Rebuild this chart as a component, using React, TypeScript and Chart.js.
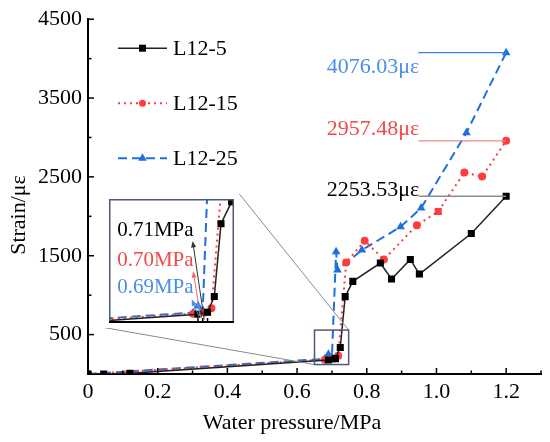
import React, { useEffect, useRef } from "react";
import { Chart, registerables } from "chart.js";
Chart.register(...registerables);

// ---------- data ----------
const seriesNames = ["L12-5", "L12-15", "L12-25"];

const pressure5 = [0, 0.045, 0.12, 0.69, 0.71, 0.724, 0.738, 0.76, 0.839, 0.871, 0.925, 0.951, 1.1, 1.2];
const strain5 = [0, 0, 8, 178, 195, 335, 981, 1175, 1407, 1205, 1453, 1268, 1782, 2253.53];

const pressure15 = [0, 0.68, 0.7, 0.718, 0.741, 0.794, 0.849, 0.944, 1.005, 1.08, 1.131, 1.2];
const strain15 = [0, 182, 190, 230, 1415, 1690, 1453, 1888, 2061, 2555, 2504, 2957.48];

const pressure25 = [0, 0.68, 0.69, 0.7, 0.712, 0.716, 0.786, 0.897, 0.956, 1.086, 1.2];
const strain25 = [0, 192, 250, 215, 1551, 1319, 1572, 1867, 2104, 3061, 4076.03];

const endLabels = ["2253.53με", "2957.48με", "4076.03με"];
const xTickValues = [0, 0.1, 0.2, 0.3, 0.4, 0.5, 0.6, 0.7, 0.8, 0.9, 1.0, 1.1, 1.2, 1.3];
const yTickValues = [0, 500, 1000, 1500, 2000, 2500, 3000, 3500, 4000, 4500];

// inset
const insetTickValues = [0.69, 0.7, 0.71];
const insetLabels = ["0.71MPa", "0.70MPa", "0.69MPa"];

const xTitle = "Water pressure/MPa";
const yTitle = "Strain/με";

// ---------- style ----------
const FONT = "'Liberation Serif', 'Times New Roman', serif";
const BLACK = "#222222";
const RED = "#ff3b3b";
const BLUE = "#1f6fde";
const TEXT_COLORS = ["#000000", "#f24a4a", "#4a8ee6"];
const ANN_LINE = ["#8c8c8c", "#f08a8a", "#3c82e6"];
const FRAME = "#4c5a7a";

function pts(xs: number[], ys: number[]) {
  return xs.map((x, i) => ({ x, y: ys[i] }));
}

function makeDatasets() {
  return [
    {
      label: seriesNames[0],
      data: pts(pressure5, strain5),
      borderColor: BLACK,
      backgroundColor: "#000",
      borderWidth: 1.5,
      pointStyle: "rect",
      pointRadius: 5,
      pointBackgroundColor: "#000",
      pointBorderColor: "#000",
      pointBorderWidth: 0,
      tension: 0,
    },
    {
      label: seriesNames[1],
      data: pts(pressure15, strain15),
      borderColor: RED,
      backgroundColor: RED,
      borderWidth: 2,
      borderDash: [2, 4],
      pointStyle: (c: any) => (c.dataIndex === 2 || c.dataIndex === 8 ? "rect" : "circle"),
      pointRadius: (c: any) => (c.dataIndex === 2 || c.dataIndex === 8 ? 5 : 4),
      pointBackgroundColor: RED,
      pointBorderColor: RED,
      pointBorderWidth: 0,
      tension: 0,
    },
    {
      label: seriesNames[2],
      data: pts(pressure25, strain25),
      borderColor: BLUE,
      backgroundColor: BLUE,
      borderWidth: 2,
      borderDash: [9, 5],
      pointStyle: "triangle",
      pointRadius: 5,
      pointBackgroundColor: BLUE,
      pointBorderColor: BLUE,
      pointBorderWidth: 0,
      tension: 0,
    },
  ];
}

// inset placement (in main-chart data coordinates) and zoom box
const insetRect = { x0: 0.046, x1: 0.434, y0: 589, y1: 2285 };
const zoomBox = { x0: 0.65, x1: 0.748, y0: 120, y1: 557 };

function drawMarker(ctx: CanvasRenderingContext2D, style: string, cx: number, cy: number, color: string) {
  ctx.fillStyle = color;
  ctx.beginPath();
  if (style === "rect") {
    ctx.rect(cx - 3.5, cy - 3.5, 7, 7);
  } else if (style === "circle") {
    ctx.arc(cx, cy, 3.5, 0, Math.PI * 2);
  } else {
    const r = 5;
    ctx.moveTo(cx, cy - r);
    ctx.lineTo(cx + r * 0.866, cy + r * 0.5);
    ctx.lineTo(cx - r * 0.866, cy + r * 0.5);
    ctx.closePath();
  }
  ctx.fill();
}

const mainDecor = {
  id: "mainDecor",
  afterDatasetsDraw(chart: any) {
    const { ctx, chartArea: ca } = chart;
    const xs = chart.scales.x;
    const ys = chart.scales.y;
    ctx.save();

    // inward ticks
    ctx.strokeStyle = "#000";
    ctx.lineWidth = 1.5;
    xs.ticks.forEach((t: any) => {
      const px = xs.getPixelForValue(t.value);
      const len = t.label ? 6 : 3.5;
      ctx.beginPath();
      ctx.moveTo(px, ca.bottom);
      ctx.lineTo(px, ca.bottom - len);
      ctx.stroke();
    });
    ys.ticks.forEach((t: any) => {
      const py = ys.getPixelForValue(t.value);
      const len = t.label ? 6 : 3.5;
      ctx.beginPath();
      ctx.moveTo(ca.left, py);
      ctx.lineTo(ca.left + len, py);
      ctx.stroke();
    });

    // end value annotations
    const ends = [
      [pressure5[pressure5.length - 1], strain5[strain5.length - 1]],
      [pressure15[pressure15.length - 1], strain15[strain15.length - 1]],
      [pressure25[pressure25.length - 1], strain25[strain25.length - 1]],
    ];
    const textOffsets = [-6, -12, 15];
    const startX = xs.getPixelForValue(0.948);
    ctx.font = `22px ${FONT}`;
    ctx.textAlign = "right";
    ctx.textBaseline = "middle";
    ends.forEach(([ex, ey], i) => {
      const px = xs.getPixelForValue(ex);
      const py = ys.getPixelForValue(ey);
      ctx.strokeStyle = ANN_LINE[i];
      ctx.lineWidth = i === 0 ? 1.5 : 1.2;
      ctx.beginPath();
      ctx.moveTo(startX, py);
      ctx.lineTo(px, py);
      ctx.stroke();
      ctx.fillStyle = TEXT_COLORS[i];
      ctx.fillText(endLabels[i], startX + 1, py + textOffsets[i]);
    });

    // zoom box + connectors
    const bx0 = xs.getPixelForValue(zoomBox.x0);
    const bx1 = xs.getPixelForValue(zoomBox.x1);
    const by0 = ys.getPixelForValue(zoomBox.y0);
    const by1 = ys.getPixelForValue(zoomBox.y1);
    const ix0 = xs.getPixelForValue(insetRect.x0);
    const ix1 = xs.getPixelForValue(insetRect.x1);
    const iy0 = ys.getPixelForValue(insetRect.y0);
    const iy1 = ys.getPixelForValue(insetRect.y1);
    ctx.strokeStyle = "#8a8a8a";
    ctx.lineWidth = 1;
    ctx.beginPath();
    ctx.moveTo(ix1, iy1);
    ctx.lineTo(bx1, by1);
    ctx.moveTo(ix0, iy0);
    ctx.lineTo(bx0, by0);
    ctx.stroke();
    ctx.strokeStyle = FRAME;
    ctx.lineWidth = 1.5;
    ctx.strokeRect(bx0, by1, bx1 - bx0, by0 - by1);

    // legend
    const dsets = chart.data.datasets;
    ctx.textAlign = "left";
    ctx.textBaseline = "middle";
    dsets.forEach((d: any, i: number) => {
      const cy = ca.top + 29 + i * 55;
      const lx0 = ca.left + 30;
      const lx1 = ca.left + 79;
      ctx.strokeStyle = d.borderColor;
      ctx.lineWidth = d.borderWidth;
      ctx.setLineDash(d.borderDash || []);
      ctx.beginPath();
      ctx.moveTo(lx0, cy);
      ctx.lineTo(lx1, cy);
      ctx.stroke();
      ctx.setLineDash([]);
      const style = i === 0 ? "rect" : i === 1 ? "circle" : "triangle";
      drawMarker(ctx, style, (lx0 + lx1) / 2, cy, d.pointBackgroundColor);
      ctx.fillStyle = "#000";
      ctx.font = `22px ${FONT}`;
      ctx.fillText(d.label, ca.left + 85, cy + 1);
    });

    // axis titles
    ctx.fillStyle = "#000";
    ctx.font = `22px ${FONT}`;
    ctx.textAlign = "center";
    ctx.textBaseline = "middle";
    ctx.fillText(xTitle, ca.left + 204, 423);
    ctx.save();
    ctx.translate(19, 215);
    ctx.rotate(-Math.PI / 2);
    ctx.fillText(yTitle, 0, 0);
    ctx.restore();

    ctx.restore();
  },
};

const insetDecor = {
  id: "insetDecor",
  afterDatasetsDraw(chart: any) {
    const { ctx, chartArea: ca } = chart;
    const xs = chart.scales.x;
    const ys = chart.scales.y;
    ctx.save();
    // frame
    ctx.strokeStyle = FRAME;
    ctx.lineWidth = 1.5;
    ctx.strokeRect(ca.left + 0.75, ca.top + 0.75, ca.right - ca.left - 1.5, ca.bottom - ca.top - 1.5);
    // bottom axis
    ctx.strokeStyle = "#000";
    ctx.lineWidth = 2;
    ctx.beginPath();
    ctx.moveTo(ca.left, ca.bottom - 1);
    ctx.lineTo(ca.right, ca.bottom - 1);
    ctx.stroke();
    ctx.lineWidth = 1.5;
    insetTickValues.forEach((v) => {
      const px = xs.getPixelForValue(v);
      ctx.beginPath();
      ctx.moveTo(px, ca.bottom - 1);
      ctx.lineTo(px, ca.bottom - 5);
      ctx.stroke();
    });

    // arrows
    const arrows = [
      { from: [0.703, 130], to: [0.679, 828], color: "#333333" },
      { from: [0.696, 143], to: [0.68, 560], color: "#f26a6a" },
      { from: [0.692, 160], to: [0.677, 310], color: "#4a8ee6" },
      { from: [0.694, 160], to: [0.69, 300], color: "#4a8ee6" },
    ];
    arrows.forEach((a) => {
      const x0 = xs.getPixelForValue(a.from[0]);
      const y0 = ys.getPixelForValue(a.from[1]);
      const x1 = xs.getPixelForValue(a.to[0]);
      const y1 = ys.getPixelForValue(a.to[1]);
      const ang = Math.atan2(y1 - y0, x1 - x0);
      const hl = 7;
      ctx.strokeStyle = a.color;
      ctx.fillStyle = a.color;
      ctx.lineWidth = 1;
      ctx.beginPath();
      ctx.moveTo(x0, y0);
      ctx.lineTo(x1 - Math.cos(ang) * hl * 0.8, y1 - Math.sin(ang) * hl * 0.8);
      ctx.stroke();
      ctx.beginPath();
      ctx.moveTo(x1, y1);
      ctx.lineTo(x1 - hl * Math.cos(ang - 0.38), y1 - hl * Math.sin(ang - 0.38));
      ctx.lineTo(x1 - hl * Math.cos(ang + 0.38), y1 - hl * Math.sin(ang + 0.38));
      ctx.closePath();
      ctx.fill();
    });

    // labels
    const labelY = [923, 656, 418];
    ctx.font = `21px ${FONT}`;
    ctx.textAlign = "right";
    ctx.textBaseline = "middle";
    insetLabels.forEach((t, i) => {
      ctx.fillStyle = TEXT_COLORS[i];
      ctx.fillText(t, xs.getPixelForValue(0.681), ys.getPixelForValue(labelY[i]));
    });
    ctx.restore();
  },
};

export default function App() {
  const mainRef = useRef<HTMLCanvasElement>(null);
  const insetRef = useRef<HTMLCanvasElement>(null);

  useEffect(() => {
    const main = new Chart(mainRef.current as HTMLCanvasElement, {
      type: "line",
      data: { datasets: makeDatasets() as any },
      options: {
        animation: false,
        responsive: false,
        maintainAspectRatio: false,
        layout: { padding: { top: 18, right: 9, left: 0, bottom: 0 } },
        plugins: { legend: { display: false }, tooltip: { enabled: false }, title: { display: false } },
        scales: {
          x: {
            type: "linear",
            min: 0,
            max: 1.3,
            afterBuildTicks: (s: any) => {
              s.ticks = xTickValues.map((v) => ({ value: v }));
            },
            afterFit: (s: any) => {
              s.height = 68;
            },
            grid: { display: false, drawOnChartArea: false, drawTicks: false },
            border: { display: true, color: "#000", width: 2 },
            ticks: {
              padding: 5,
              color: "#000",
              autoSkip: false,
              maxRotation: 0,
              font: { family: FONT, size: 22 },
              callback: (v: any) => {
                const k = Math.round(Number(v) * 10);
                if (k % 2 !== 0) return "";
                return k === 0 ? "0" : (k / 10).toFixed(1);
              },
            },
          },
          y: {
            type: "linear",
            min: 0,
            max: 4500,
            afterBuildTicks: (s: any) => {
              s.ticks = yTickValues.map((v) => ({ value: v }));
            },
            afterFit: (s: any) => {
              s.width = 88;
            },
            grid: { display: false, drawOnChartArea: false, drawTicks: false },
            border: { display: true, color: "#000", width: 2 },
            ticks: {
              padding: 6,
              color: "#000",
              autoSkip: false,
              font: { family: FONT, size: 22 },
              callback: (v: any) => (Math.round(Number(v)) % 1000 === 500 ? String(v) : ""),
            },
          },
        },
      },
      plugins: [mainDecor],
    });

    const xs: any = main.scales.x;
    const ys: any = main.scales.y;
    const l = Math.round(xs.getPixelForValue(insetRect.x0));
    const r = Math.round(xs.getPixelForValue(insetRect.x1));
    const t = Math.round(ys.getPixelForValue(insetRect.y1));
    const b = Math.round(ys.getPixelForValue(insetRect.y0));
    const ic = insetRef.current as HTMLCanvasElement;
    ic.width = r - l;
    ic.height = b - t;
    ic.style.left = l + "px";
    ic.style.top = t + "px";
    ic.style.width = r - l + "px";
    ic.style.height = b - t + "px";

    const inset = new Chart(ic, {
      type: "line",
      data: { datasets: makeDatasets() as any },
      options: {
        animation: false,
        responsive: false,
        maintainAspectRatio: false,
        layout: { padding: 0 },
        plugins: { legend: { display: false }, tooltip: { enabled: false } },
        scales: {
          x: { type: "linear", min: 0.505, max: 0.765, display: false },
          y: { type: "linear", min: 100, max: 1200, display: false },
        },
      },
      plugins: [insetDecor],
    });

    return () => {
      main.destroy();
      inset.destroy();
    };
  }, []);

  return (
    <div style={{ position: "fixed", left: 0, top: 0, width: 550, height: 442, background: "#fff" }}>
      <canvas
        ref={mainRef}
        width={550}
        height={442}
        style={{ position: "absolute", left: 0, top: 0, width: 550, height: 442 }}
      />
      <canvas ref={insetRef} style={{ position: "absolute", background: "#fff" }} />
    </div>
  );
}
